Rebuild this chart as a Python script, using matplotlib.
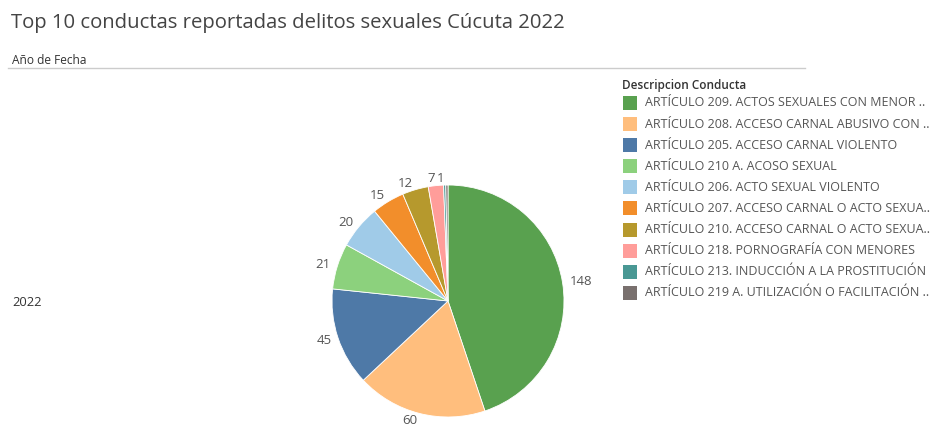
import matplotlib
matplotlib.use("Agg")
import matplotlib.pyplot as plt
from matplotlib.patches import Rectangle

plt.rcParams['font.family'] = ['Open Sans', 'DejaVu Sans']

categories = [
    "ARTÍCULO 209. ACTOS SEXUALES CON MENOR ..",
    "ARTÍCULO 208. ACCESO CARNAL ABUSIVO CON ..",
    "ARTÍCULO 205. ACCESO CARNAL VIOLENTO",
    "ARTÍCULO 210 A. ACOSO SEXUAL",
    "ARTÍCULO 206. ACTO SEXUAL VIOLENTO",
    "ARTÍCULO 207. ACCESO CARNAL O ACTO SEXUA..",
    "ARTÍCULO 210. ACCESO CARNAL O ACTO SEXUA..",
    "ARTÍCULO 218. PORNOGRAFÍA CON MENORES",
    "ARTÍCULO 213. INDUCCIÓN A LA PROSTITUCIÓN",
    "ARTÍCULO 219 A. UTILIZACIÓN O FACILITACIÓN ..",
]
values = [148, 60, 45, 21, 20, 15, 12, 7, 1, 1]
shown_labels = ["148", "60", "45", "21", "20", "15", "12", "7", "1", ""]
colors = ["#59A14F", "#FFBE7D", "#4E79A7", "#8CD17D", "#A0CBE8",
          "#F28E2B", "#B6992D", "#FF9D9A", "#499894", "#79706E"]
year_label = "2022"

W, H = 935, 433
fig = plt.figure(figsize=(W / 100, H / 100), dpi=100)
fig.patch.set_facecolor("white")

def fx(x):
    return x / W

def fy(y):
    return 1 - y / H

fig.text(fx(11), fy(23), "Top 10 conductas reportadas delitos sexuales Cúcuta 2022",
         fontsize=14.6, color="#444444", va="center", ha="left")
fig.text(fx(12), fy(60), "Año de Fecha", fontsize=8.6, color="#333333", va="center", ha="left")
fig.add_artist(plt.Line2D([fx(8), fx(805)], [fy(68), fy(68)], color="#cccccc", lw=1))
fig.text(fx(12), fy(302), year_label, fontsize=9.3, color="#333333", va="center", ha="left")

# pie
cx, cy, r = 448, 301, 116
ax = fig.add_axes([fx(cx - r), fy(cy + r), (2 * r) / W, (2 * r) / H])
wedges, texts = ax.pie(values, labels=shown_labels, colors=colors, startangle=90,
                       counterclock=False, labeldistance=1.06,
                       wedgeprops=dict(linewidth=0.6, edgecolor="white"),
                       textprops=dict(fontsize=9.5, color="#555555"))
ax.set_xlim(-1, 1)
ax.set_ylim(-1, 1)
ax.set_aspect("equal")
ax.axis("off")

# legend
fig.text(fx(622), fy(85), "Descripcion Conducta", fontsize=8.5, color="#333333",
         va="center", ha="left", fontweight="semibold")
y0, dy = 103, 21.1
for i, (cat, col) in enumerate(zip(categories, colors)):
    yc = y0 + i * dy
    fig.add_artist(Rectangle((fx(623), fy(yc + 7)), 14 / W, 14 / H, facecolor=col,
                             edgecolor="none", transform=fig.transFigure))
    fig.text(fx(645), fy(yc), cat, fontsize=9, color="#555555", va="center", ha="left")

fig.savefig("out.png", dpi=100)
